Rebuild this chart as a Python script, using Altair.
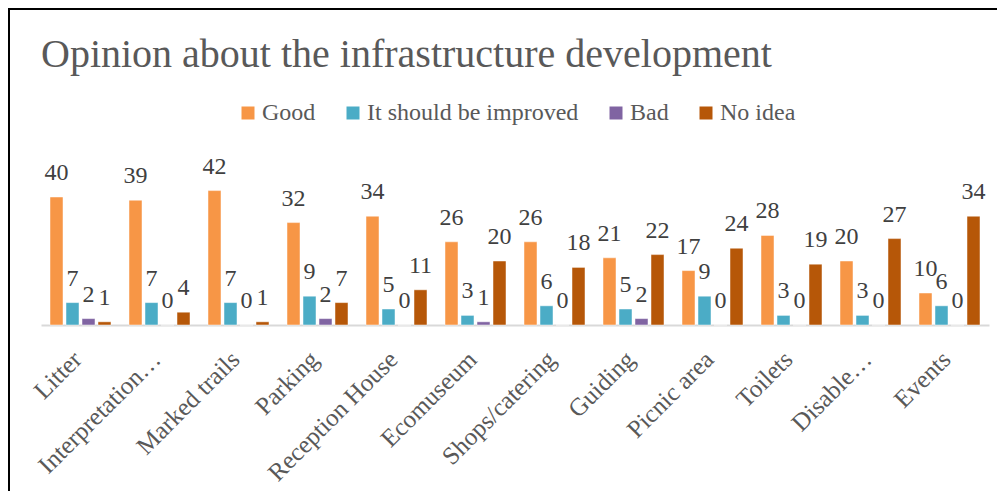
import altair as alt
import pandas as pd

categories = ["Litter", "Interpretation…", "Marked trails", "Parking", "Reception House",
              "Ecomuseum", "Shops/catering", "Guiding", "Picnic area", "Toilets",
              "Disable…", "Events"]
series = ["Good", "It should be improved", "Bad", "No idea"]
good = [40, 39, 42, 32, 34, 26, 26, 21, 17, 28, 20, 10]
improved = [7, 7, 7, 9, 5, 3, 6, 5, 9, 3, 3, 6]
bad = [2, 0, 0, 2, 0, 1, 0, 2, 0, 0, 0, 0]
no_idea = [1, 4, 1, 7, 11, 20, 18, 22, 24, 19, 27, 34]
colors = ["#F79646", "#4BACC6", "#8064A2", "#B65708"]

rows = []
for i, c in enumerate(categories):
    for s, vals in zip(series, [good, improved, bad, no_idea]):
        rows.append({"category": c, "series": s, "value": vals[i]})
df = pd.DataFrame(rows)

FONT = "Liberation Serif"

x = alt.X("category:N", sort=categories,
          scale=alt.Scale(paddingInner=0, paddingOuter=0),
          axis=alt.Axis(title=None, labelAngle=-45, labelAlign="right", labelBaseline="middle",
                        labelFont=FONT, labelFontSize=25, labelColor="#595959",
                        labelPadding=30, labelOffset=-3, labelLimit=400, ticks=False,
                        domainColor="#D9D9D9", domainWidth=2))
xo = alt.XOffset("series:N", sort=series,
                 scale=alt.Scale(paddingInner=0.1875, paddingOuter=0.5625))
y = alt.Y("value:Q", scale=alt.Scale(domain=[0, 45]), axis=None)
color = alt.Color("series:N", sort=series,
                  scale=alt.Scale(domain=series, range=colors),
                  legend=alt.Legend(title=None, orient="none", legendX=195, legendY=-80,
                                    direction="horizontal", symbolType="square",
                                    symbolSize=169, symbolStrokeWidth=0,
                                    labelFont=FONT, labelFontSize=24, labelColor="#595959",
                                    labelOffset=2, labelLimit=400, columnPadding=25))

base = alt.Chart(df)
bars = base.mark_bar(stroke="white", strokeWidth=0.8, strokeOpacity=0.6).encode(
    x=x, xOffset=xo, y=y, color=color)
labels = base.mark_text(font=FONT, fontSize=24, color="#404040",
                        baseline="alphabetic", dy=-17).encode(
    x=x, xOffset=xo, y=y, text="value:Q")

border = alt.Chart(pd.DataFrame({"k": [0]})).mark_rect(
    fillOpacity=0, stroke="black", strokeWidth=2).encode(
    x=alt.value(-32), x2=alt.value(1000), y=alt.value(-172), y2=alt.value(400))

chart = alt.layer(border, bars, labels).properties(
    width=948, height=144,
    padding={"left": 33, "top": 173, "right": 8, "bottom": 166},
    autosize=alt.AutoSizeParams(type="none"),
    title=alt.TitleParams("Opinion about the infrastructure development", anchor="start",
                          frame="group", font=FONT, fontSize=40, fontWeight="normal",
                          color="#595959", offset=-67),
).configure_view(stroke=None)

chart.save("out.html", embed_options={"renderer": "svg", "actions": False})
